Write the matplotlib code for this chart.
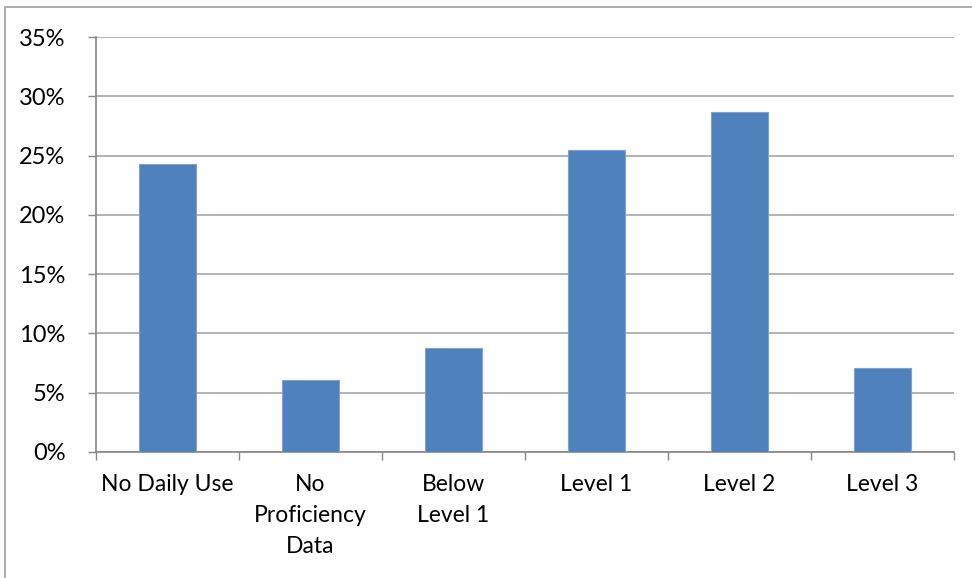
import matplotlib.pyplot as plt
import matplotlib.patches as patches
import numpy as np
from matplotlib.ticker import FuncFormatter, MultipleLocator

# 数据
categories = ['No Daily Use', 'No\nProficiency\nData', 'Below\nLevel 1', 'Level 1', 'Level 2', 'Level 3']
values = [24.25, 6.1, 8.75, 25.5, 28.7, 7.1]

plt.rcParams['font.family'] = ['Lato', 'DejaVu Sans']

fig = plt.figure(figsize=(9.72, 5.78), dpi=100)
# 外框 (右边和下边超出画面)
fig.patches.append(patches.Rectangle((5 / 972, -0.1), 1.2, 1 - 7 / 578 + 0.1,
                                     transform=fig.transFigure, fill=False,
                                     edgecolor='#a0a0a0', linewidth=1.2))

ax = fig.add_axes([96 / 972, 1 - 452 / 578, (954 - 96) / 972, (452 - 37) / 578])
x = np.arange(len(categories))
ax.bar(x, values, width=0.4, color='#4F81BD', edgecolor='#7FA3D0', linewidth=0.8, zorder=3)

ax.set_xlim(-0.5, len(categories) - 0.5)
ax.set_ylim(0, 35)
ax.yaxis.set_major_locator(MultipleLocator(5))
ax.yaxis.set_major_formatter(FuncFormatter(lambda v, p: f'{int(v)}%'))
ax.grid(axis='y', color='#a6a6a6', linewidth=1.2, zorder=0)

ax.set_xticks(x)
ax.set_xticklabels(categories, fontsize=16.5, linespacing=1.58, va='top')
ax.set_xticks(np.arange(-0.5, len(categories)), minor=True)
ax.tick_params(axis='x', which='major', length=0, pad=16)
ax.tick_params(axis='x', which='minor', length=6, color='#868686', width=1)
ax.tick_params(axis='y', length=6, color='#868686', width=1, labelsize=17, pad=16)

for s in ['top', 'right']:
    ax.spines[s].set_visible(False)
for s in ['left', 'bottom']:
    ax.spines[s].set_color('#868686')
    ax.spines[s].set_linewidth(1.2)

fig.savefig('out.png', dpi=100)
